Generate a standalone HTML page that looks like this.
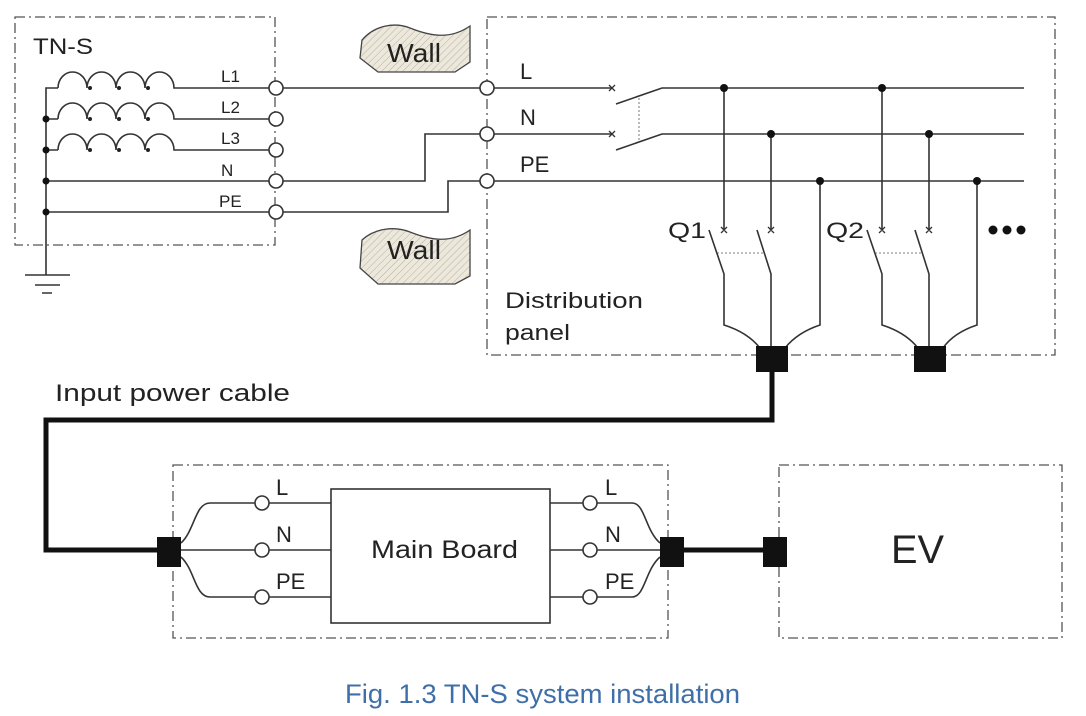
<!DOCTYPE html>
<html><head><meta charset="utf-8"><style>
html,body{margin:0;padding:0;background:#fff;}
svg{display:block;}
text{font-family:"Liberation Sans","DejaVu Sans",sans-serif;fill:#222;}
</style></head><body>
<svg width="1086" height="716" viewBox="0 0 1086 716" xmlns="http://www.w3.org/2000/svg">
<defs>
<pattern id="hatch" width="5" height="5" patternUnits="userSpaceOnUse" patternTransform="rotate(45)">
<rect width="5" height="5" fill="#ece8dc"/><line x1="0" y1="0" x2="0" y2="5" stroke="#b8b0a0" stroke-width="1"/>
</pattern>
</defs>
<g fill="none" stroke="#555" stroke-width="1.3" stroke-dasharray="10,4,2,4">
<rect x="15" y="17" width="260" height="228"/>
<rect x="487" y="17" width="568" height="338"/>
<rect x="173" y="465" width="495" height="173"/>
<rect x="779" y="465" width="283" height="173"/>
</g>
<g stroke="#444" stroke-width="1.3" fill="url(#hatch)">
<path d="M362,40 C375,25 395,22 410,28 C430,36 450,40 470,26 L470,62 L455,72 L378,72 L360,58 Z"/>
<path d="M362,240 C375,228 395,226 410,232 C430,240 450,244 470,230 L470,276 L455,284 L378,284 L360,268 Z"/>
</g>
<text x="387" y="62" font-size="26" textLength="54" lengthAdjust="spacingAndGlyphs">Wall</text>
<text x="387" y="259" font-size="26" textLength="54" lengthAdjust="spacingAndGlyphs">Wall</text>
<g fill="none" stroke="#333" stroke-width="1.6">
<path d="M58,88 a14.5,16 0 0 1 29,0 a14.5,16 0 0 1 29,0 a14.5,16 0 0 1 29,0 a14.5,16 0 0 1 29,0 L269,88"/>
<path d="M58,119 a14.5,16 0 0 1 29,0 a14.5,16 0 0 1 29,0 a14.5,16 0 0 1 29,0 a14.5,16 0 0 1 29,0 L269,119"/>
<path d="M58,150 a14.5,16 0 0 1 29,0 a14.5,16 0 0 1 29,0 a14.5,16 0 0 1 29,0 a14.5,16 0 0 1 29,0 L269,150"/>
<path d="M58,88 H46 V275 M46,119 H58 M46,150 H58 M46,181 H269 M46,212 H269"/>
<path d="M25,275 H70 M35,285 H60 M42,293 H52"/>
<path d="M283,88 H480 M283,181 H425 V134 H480 M283,212 H448 V181 H480"/>
<path d="M494,88 H612 M494,134 H612 M494,181 H1024"/>
<path d="M616,104 L662,88 H1024 M616,150 L662,134 H1024"/>
<path d="M724,88 V230 M771,134 V230 M882,88 V230 M929,134 V230"/>
<path d="M709,230 L724,274 V325 C740,330 752,338 760,348 M757,230 L771,274 V348 M820,181 V325 C805,330 793,338 785,348"/>
<path d="M867,230 L882,274 V325 C898,330 910,338 918,348 M915,230 L929,274 V348 M977,181 V325 C962,330 950,338 943,348"/>
<path d="M181,543 C195,530 195,503 210,503 H255 M181,550 H255 M181,557 C195,570 195,597 210,597 H255"/>
<path d="M269,503 H331 M269,550 H331 M269,597 H331"/>
<path d="M550,503 H583 M550,550 H583 M550,597 H583"/>
<path d="M597,503 H632 C645,503 645,530 660,543 M597,550 H660 M597,597 H632 C645,597 645,570 660,557"/>
</g>
<g fill="#222">
<circle cx="90" cy="88" r="2"/><circle cx="119" cy="88" r="2"/><circle cx="148" cy="88" r="2"/>
<circle cx="90" cy="119" r="2"/><circle cx="119" cy="119" r="2"/><circle cx="148" cy="119" r="2"/>
<circle cx="90" cy="150" r="2"/><circle cx="119" cy="150" r="2"/><circle cx="148" cy="150" r="2"/>
</g>
<g stroke="#555" stroke-width="0.8" stroke-dasharray="2,2" fill="none">
<path d="M639,98 V143"/>
<path d="M717,253 H765 M875,253 H923"/>
</g>
<g stroke="#333" stroke-width="1.3">
<path d="M609,85 l6,6 M615,85 l-6,6 M609,131 l6,6 M615,131 l-6,6"/>
<path d="M721,227 l6,6 M727,227 l-6,6 M768,227 l6,6 M774,227 l-6,6 M879,227 l6,6 M885,227 l-6,6 M926,227 l6,6 M932,227 l-6,6"/>
</g>
<g fill="#fff" stroke="#333" stroke-width="1.6">
<circle cx="276" cy="88" r="7"/><circle cx="276" cy="119" r="7"/><circle cx="276" cy="150" r="7"/><circle cx="276" cy="181" r="7"/><circle cx="276" cy="212" r="7"/>
<circle cx="487" cy="88" r="7"/><circle cx="487" cy="134" r="7"/><circle cx="487" cy="181" r="7"/>
<circle cx="262" cy="503" r="7"/><circle cx="262" cy="550" r="7"/><circle cx="262" cy="597" r="7"/>
<circle cx="590" cy="503" r="7"/><circle cx="590" cy="550" r="7"/><circle cx="590" cy="597" r="7"/>
<rect x="331" y="489" width="219" height="134"/>
</g>
<g fill="#111">
<circle cx="46" cy="119" r="3.5"/><circle cx="46" cy="150" r="3.5"/><circle cx="46" cy="181" r="3.5"/><circle cx="46" cy="212" r="3.5"/>
<circle cx="724" cy="88" r="4"/><circle cx="771" cy="134" r="4"/><circle cx="820" cy="181" r="4"/>
<circle cx="882" cy="88" r="4"/><circle cx="929" cy="134" r="4"/><circle cx="977" cy="181" r="4"/>
<circle cx="993" cy="230" r="4.5"/><circle cx="1007" cy="230" r="4.5"/><circle cx="1021" cy="230" r="4.5"/>
<rect x="756" y="346" width="32" height="26"/>
<rect x="914" y="346" width="32" height="26"/>
<rect x="157" y="537" width="24" height="30"/>
<rect x="660" y="537" width="24" height="30"/>
<rect x="763" y="537" width="24" height="30"/>
</g>
<path d="M772,372 V420 H46 V550 H157 M684,550 H763" fill="none" stroke="#111" stroke-width="5"/>
<text x="33" y="54" font-size="22" textLength="60" lengthAdjust="spacingAndGlyphs">TN-S</text>
<g font-size="17">
<text x="221" y="82">L1</text><text x="221" y="113">L2</text><text x="221" y="144">L3</text><text x="221" y="176">N</text><text x="219" y="207">PE</text>
</g>
<g font-size="22">
<text x="520" y="79">L</text><text x="520" y="125">N</text><text x="520" y="172">PE</text>
<text x="668" y="238" textLength="38" lengthAdjust="spacingAndGlyphs">Q1</text><text x="826" y="238" textLength="38" lengthAdjust="spacingAndGlyphs">Q2</text>
<text x="505" y="308" textLength="138" lengthAdjust="spacingAndGlyphs">Distribution</text><text x="505" y="340" textLength="65" lengthAdjust="spacingAndGlyphs">panel</text>
<text x="55" y="401" font-size="24" textLength="235" lengthAdjust="spacingAndGlyphs">Input power cable</text>
<text x="276" y="495">L</text><text x="276" y="542">N</text><text x="276" y="589">PE</text>
<text x="605" y="495">L</text><text x="605" y="542">N</text><text x="605" y="589">PE</text>
<text x="371" y="558" font-size="25" textLength="147" lengthAdjust="spacingAndGlyphs">Main Board</text>
</g>
<text x="891" y="563" font-size="40" textLength="53" lengthAdjust="spacingAndGlyphs">EV</text>
<text x="345" y="703" font-size="27" textLength="395" lengthAdjust="spacingAndGlyphs" style="fill:#3f6fa8">Fig. 1.3 TN-S system installation</text>
</svg>
</body></html>
